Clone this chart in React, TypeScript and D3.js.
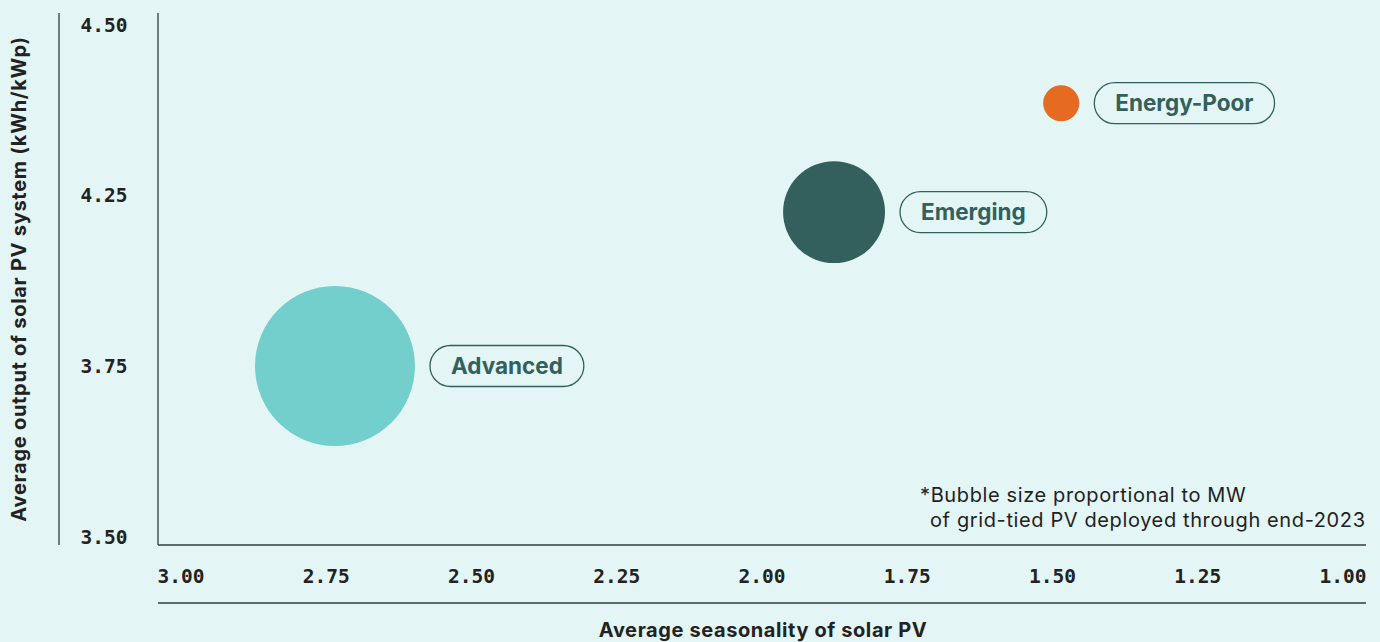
import React, { useEffect, useRef } from "react";
import * as d3 from "d3";

const categories = ["Advanced", "Emerging", "Energy-Poor"];
const seasonality = [2.735, 1.876, 1.485];
const avgOutput = [3.75, 4.2, 4.385];
const capacityMW = [100, 40.6, 5.1];
const bubbleColors = ["#72cfcb", "#33605c", "#e56b22"];
const xTicks = [3.0, 2.75, 2.5, 2.25, 2.0, 1.75, 1.5, 1.25, 1.0];
const yTicks = [4.5, 4.25, 3.75, 3.5];
const xTitle = "Average seasonality of solar PV";
const yTitle = "Average output of solar PV system (kWh/kWp)";
const noteLines = ["*Bubble size proportional to MW", "of grid-tied PV deployed through end-2023"];

const W = 1380;
const H = 642;
const BG = "#e3f5f5";
const DARK = "#33605c";
const INK = "#222222";
const SANS = "Inter, 'Noto Sans', sans-serif";
const MONO = "'DejaVu Sans Mono', monospace";

export default function App() {
  const ref = useRef<SVGSVGElement | null>(null);

  useEffect(() => {
    const svg = d3.select(ref.current);
    svg.selectAll("*").remove();

    const x = d3.scaleLinear().domain([3, 1]).range([181, 1343]);
    const y = d3.scaleLinear().domain([3.5, 3.75, 4.25, 4.5]).range([537, 366, 195, 25]);
    const r = d3.scaleSqrt().domain([0, 100]).range([0, 80]);

    svg.append("rect").attr("width", W).attr("height", H).attr("fill", BG);

    // frame lines
    const lineColor = "#3a3a3a";
    svg.append("line").attr("x1", 59).attr("x2", 59).attr("y1", 13).attr("y2", 545)
      .attr("stroke", lineColor).attr("stroke-width", 1.3);
    svg.append("line").attr("x1", 158).attr("x2", 158).attr("y1", 13).attr("y2", 545)
      .attr("stroke", lineColor).attr("stroke-width", 1.3);
    svg.append("line").attr("x1", 158).attr("x2", 1366).attr("y1", 545).attr("y2", 545)
      .attr("stroke", lineColor).attr("stroke-width", 1.3);
    svg.append("line").attr("x1", 158).attr("x2", 1366).attr("y1", 603).attr("y2", 603)
      .attr("stroke", lineColor).attr("stroke-width", 1.3);

    // y tick labels
    svg.append("g").selectAll("text").data(yTicks).join("text")
      .attr("x", 104).attr("y", (d) => y(d))
      .attr("dy", "0.36em")
      .attr("text-anchor", "middle")
      .attr("font-family", MONO).attr("font-weight", 700).attr("font-size", 19.5)
      .attr("fill", INK)
      .text((d) => d3.format(".2f")(d));

    // x tick labels
    svg.append("g").selectAll("text").data(xTicks).join("text")
      .attr("x", (d) => x(d)).attr("y", 576)
      .attr("dy", "0.36em")
      .attr("text-anchor", "middle")
      .attr("font-family", MONO).attr("font-weight", 700).attr("font-size", 19.5)
      .attr("fill", INK)
      .text((d) => d3.format(".2f")(d));

    // axis titles
    svg.append("text").attr("x", 763).attr("y", 630)
      .attr("dy", "0.35em")
      .attr("text-anchor", "middle")
      .attr("font-family", SANS).attr("font-weight", 700).attr("font-size", 20)
      .attr("letter-spacing", 0.6)
      .attr("fill", INK).text(xTitle);
    svg.append("text")
      .attr("transform", "translate(19,279) rotate(-90)")
      .attr("dy", "0.35em")
      .attr("text-anchor", "middle")
      .attr("font-family", SANS).attr("font-weight", 700).attr("font-size", 20)
      .attr("letter-spacing", 0.72)
      .attr("fill", INK).text(yTitle);

    // footnote
    svg.append("g").selectAll("text").data(noteLines).join("text")
      .attr("x", (_d, i) => (i === 0 ? 920 : 930))
      .attr("y", (_d, i) => 494.5 + i * 25.5)
      .attr("dy", "0.35em")
      .attr("font-family", SANS).attr("font-size", 20)
      .attr("letter-spacing", 0.62)
      .attr("fill", INK)
      .text((d) => d);

    // bubbles
    const data = categories.map((c, i) => ({
      name: c, sx: seasonality[i], oy: avgOutput[i], mw: capacityMW[i], color: bubbleColors[i],
    }));
    svg.append("g").selectAll("circle").data(data).join("circle")
      .attr("cx", (d) => x(d.sx)).attr("cy", (d) => y(d.oy)).attr("r", (d) => r(d.mw))
      .attr("fill", (d) => d.color);

    // pill labels
    const labels = svg.append("g").selectAll("g").data(data).join("g");
    labels.each(function (d) {
      const g = d3.select(this);
      const cx = x(d.sx) + r(d.mw) + 15;
      const cy = y(d.oy);
      const t = g.append("text")
        .attr("y", cy).attr("dy", "0.36em")
        .attr("font-family", SANS).attr("font-weight", 700).attr("font-size", 22.5)
        .attr("fill", DARK).text(d.name);
      const tw = (t.node() as SVGTextElement).getComputedTextLength();
      const padX = 21;
      const ph = 41;
      t.attr("x", cx + padX);
      g.insert("rect", "text")
        .attr("x", cx).attr("y", cy - ph / 2)
        .attr("width", tw + padX * 2).attr("height", ph)
        .attr("rx", ph / 2).attr("ry", ph / 2)
        .attr("fill", "none").attr("stroke", DARK).attr("stroke-width", 1.3);
    });
  }, []);

  return (
    <svg
      ref={ref}
      width={W}
      height={H}
      style={{ position: "absolute", left: 0, top: 0, display: "block" }}
    />
  );
}
